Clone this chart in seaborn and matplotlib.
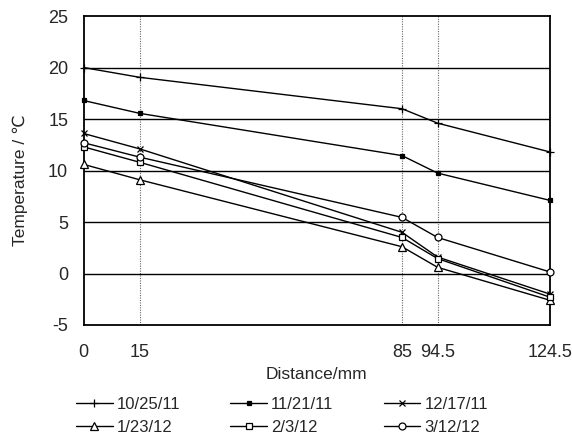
import pandas as pd
import matplotlib
matplotlib.use("Agg")
import matplotlib.pyplot as plt
import seaborn as sns

distance = [0, 15, 85, 94.5, 124.5]
dates = ["10/25/11", "11/21/11", "12/17/11", "1/23/12", "2/3/12", "3/12/12"]
temp_1025 = [20.0, 19.05, 16.0, 14.6, 11.8]
temp_1121 = [16.8, 15.55, 11.45, 9.75, 7.1]
temp_1217 = [13.6, 12.1, 4.0, 1.6, -2.0]
temp_0123 = [10.6, 9.1, 2.6, 0.6, -2.6]
temp_0203 = [12.3, 10.8, 3.5, 1.45, -2.3]
temp_0312 = [12.7, 11.3, 5.45, 3.5, 0.15]
y_ticks = [-5, 0, 5, 10, 15, 20, 25]
x_ticks = [0, 15, 85, 94.5, 124.5]
x_tick_labels = ["0", "15", "85", "94.5", "124.5"]

series = [temp_1025, temp_1121, temp_1217, temp_0123, temp_0203, temp_0312]
data = pd.DataFrame({
    "distance": distance * len(dates),
    "temp": [v for s in series for v in s],
    "date": [d for d in dates for _ in distance],
})

sns.set_style("white")
plt.rcParams["font.family"] = ["Liberation Sans", "DejaVu Sans"]
plt.rcParams["axes.unicode_minus"] = False

fig = plt.figure(figsize=(5.72, 4.36), dpi=100)
ax = fig.add_axes([0.146, 0.2546, 0.8155, 0.7086])

# marker style for each date
styles = {
    "10/25/11": dict(marker="+", markersize=6, markerfacecolor="black"),
    "11/21/11": dict(marker="s", markersize=2.5, markerfacecolor="black"),
    "12/17/11": dict(marker="x", markersize=4.5, markerfacecolor="black"),
    "1/23/12": dict(marker="^", markersize=5.5, markerfacecolor="white"),
    "2/3/12": dict(marker="s", markersize=4.5, markerfacecolor="white"),
    "3/12/12": dict(marker="o", markersize=5, markerfacecolor="white"),
}

for x in [15, 85, 94.5]:
    ax.axvline(x, color="#666666", linestyle=(0, (1, 1.2)), linewidth=0.8, zorder=1)
for y in [0, 5, 10, 15, 20]:
    ax.axhline(y, color="black", linewidth=1.0, zorder=1)

for d in dates:
    sub = data[data["date"] == d]
    sns.lineplot(data=sub, x="distance", y="temp", ax=ax, color="black",
                 linewidth=1.0, markeredgecolor="black", markeredgewidth=0.9,
                 label=d, zorder=3, clip_on=False, **styles[d])

ax.set_xlim(0, 124.5)
ax.set_ylim(-5, 25)
ax.set_yticks(y_ticks)
ax.set_xticks(x_ticks)
ax.set_xticklabels(x_tick_labels)
ax.tick_params(axis="both", length=0, labelsize=13)
ax.tick_params(axis="x", pad=14)
ax.tick_params(axis="y", pad=11)
for sp in ax.spines.values():
    sp.set_color("black")
    sp.set_linewidth(1.3)

ax.set_xlabel("Distance/mm", fontsize=12.5, labelpad=4)
ax.set_ylabel("Temperature / \u2103", fontsize=12.5)
ax.yaxis.set_label_coords(-0.118, 0.468)

handles, labels = ax.get_legend_handles_labels()
ax.get_legend().remove()
order = [0, 3, 1, 4, 2, 5]
fig.legend([handles[i] for i in order], [labels[i] for i in order],
           ncol=3, loc="upper center", bbox_to_anchor=(0.493, 0.125),
           frameon=False, fontsize=12, handlelength=2.2, handletextpad=0.25,
           columnspacing=3.0, labelspacing=0.5)

fig.savefig("out.png", dpi=100)
